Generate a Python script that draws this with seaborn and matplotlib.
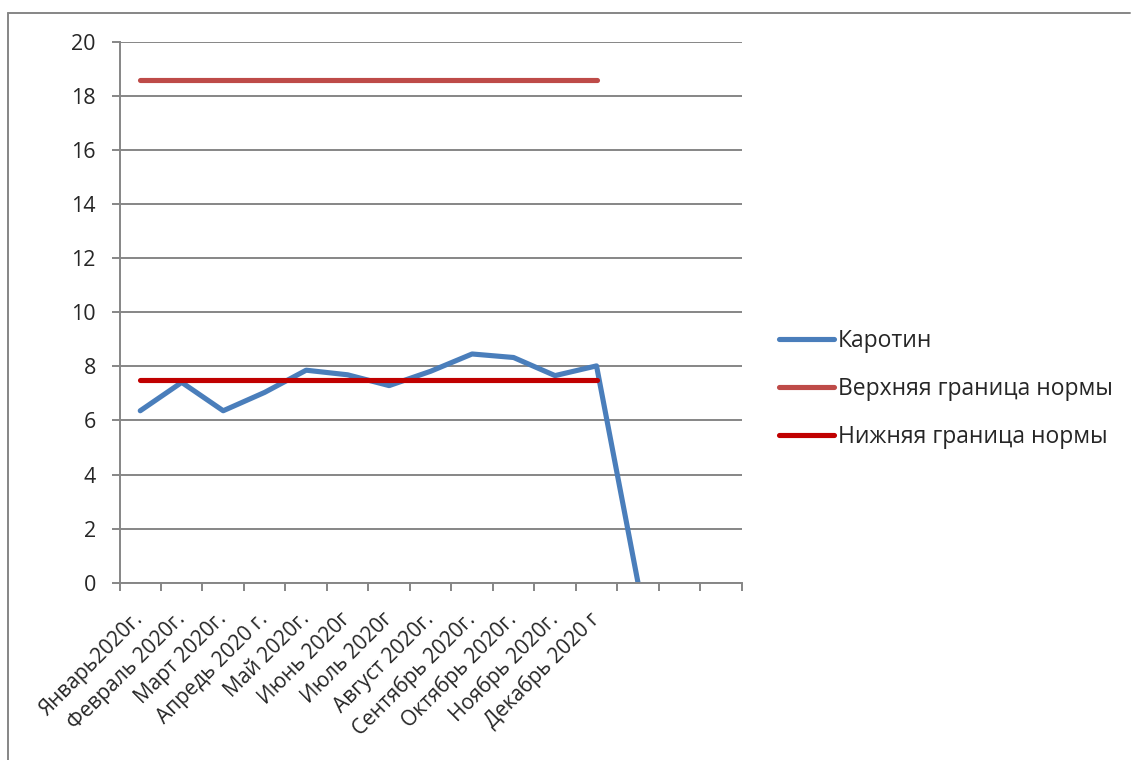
import matplotlib
matplotlib.use("Agg")
import matplotlib.pyplot as plt
from matplotlib.lines import Line2D
import numpy as np
import pandas as pd
import seaborn as sns

# Monthly carotene readings with the reference range bounds
months = ["Январь2020г.", "Февраль 2020г.", "Март 2020г.", "Апредь 2020 г.",
          "Май 2020г.", "Июнь 2020г", "Июль 2020г", "Август 2020г.",
          "Сентябрь 2020г.", "Октябрь 2020г.", "Ноябрь 2020г.", "Декабрь 2020 г"]
carotene = [6.36, 7.41, 6.36, 7.04, 7.86, 7.69, 7.29, 7.82, 8.46, 8.33, 7.66, 8.02, 0.0]
upper_norm = [18.6] * 12
lower_norm = [7.5] * 12
n_categories = 15

series_names = ["Каротин", "Верхняя граница нормы", "Нижняя граница нормы"]
series_colors = ["#4A7EBB", "#BE4B48", "#C00000"]

frames = []
for name, vals in zip(series_names, [carotene, upper_norm, lower_norm]):
    frames.append(pd.DataFrame({"x": np.arange(len(vals)), "value": vals, "series": name}))
df = pd.concat(frames, ignore_index=True)

sns.set_theme(style="white")
plt.rcParams["font.family"] = ["Open Sans", "DejaVu Sans"]

W, H = 1131, 760
LW = 3.7
fig = plt.figure(figsize=(W / 100, H / 100), dpi=100)
ax = fig.add_axes([119.5 / W, 1 - 582.7 / H, (741.7 - 119.5) / W, (582.7 - 42) / H])

sns.lineplot(data=df, x="x", y="value", hue="series", hue_order=series_names,
             palette=series_colors, linewidth=LW, ax=ax, legend=False,
             solid_capstyle="round", solid_joinstyle="round")

grid_c = "#868686"
ax.set_xlim(-0.5, n_categories - 0.5)
ax.set_ylim(0, 20)
ax.set_yticks(np.arange(0, 21, 2))
ax.yaxis.grid(True, color=grid_c, linewidth=1.4)
ax.set_axisbelow(True)

for s in ["top", "right"]:
    ax.spines[s].set_visible(False)
for s in ["left", "bottom"]:
    ax.spines[s].set_color(grid_c)
    ax.spines[s].set_linewidth(1.4)

# category labels at centers, tick marks on category boundaries
ax.set_xticks(np.arange(len(months)))
ax.set_xticklabels(months, rotation=45, ha="right", va="center",
                   rotation_mode="anchor", fontsize=15)
ax.set_xticks(np.arange(n_categories + 1) - 0.5, minor=True)
ax.tick_params(axis="x", which="major", length=0, pad=24)
ax.tick_params(axis="x", which="minor", length=6, width=1.4, color=grid_c, bottom=True)
ax.tick_params(axis="y", length=6, width=1.4, color=grid_c, left=True,
               labelsize=15.5, pad=11)
ax.set_xlabel("")
ax.set_ylabel("")

handles = [Line2D([0], [0], color=c, linewidth=LW, solid_capstyle="round")
           for c in series_colors]
fig.legend(handles, series_names, loc="center left",
           bbox_to_anchor=(758 / W, 1 - 389 / H), frameon=False,
           fontsize=16.5, handlelength=2.4, handletextpad=0.2,
           labelspacing=1.05)

# outer chart frame (left and top edges)
fig.add_artist(Line2D([7.5 / W, 7.5 / W], [0, 1 - 12.5 / H],
                      transform=fig.transFigure, color=grid_c, linewidth=1.4))
fig.add_artist(Line2D([7.5 / W, 1130 / W], [1 - 12.5 / H, 1 - 12.5 / H],
                      transform=fig.transFigure, color=grid_c, linewidth=1.4))

fig.savefig("out.png", dpi=100, facecolor="white")
